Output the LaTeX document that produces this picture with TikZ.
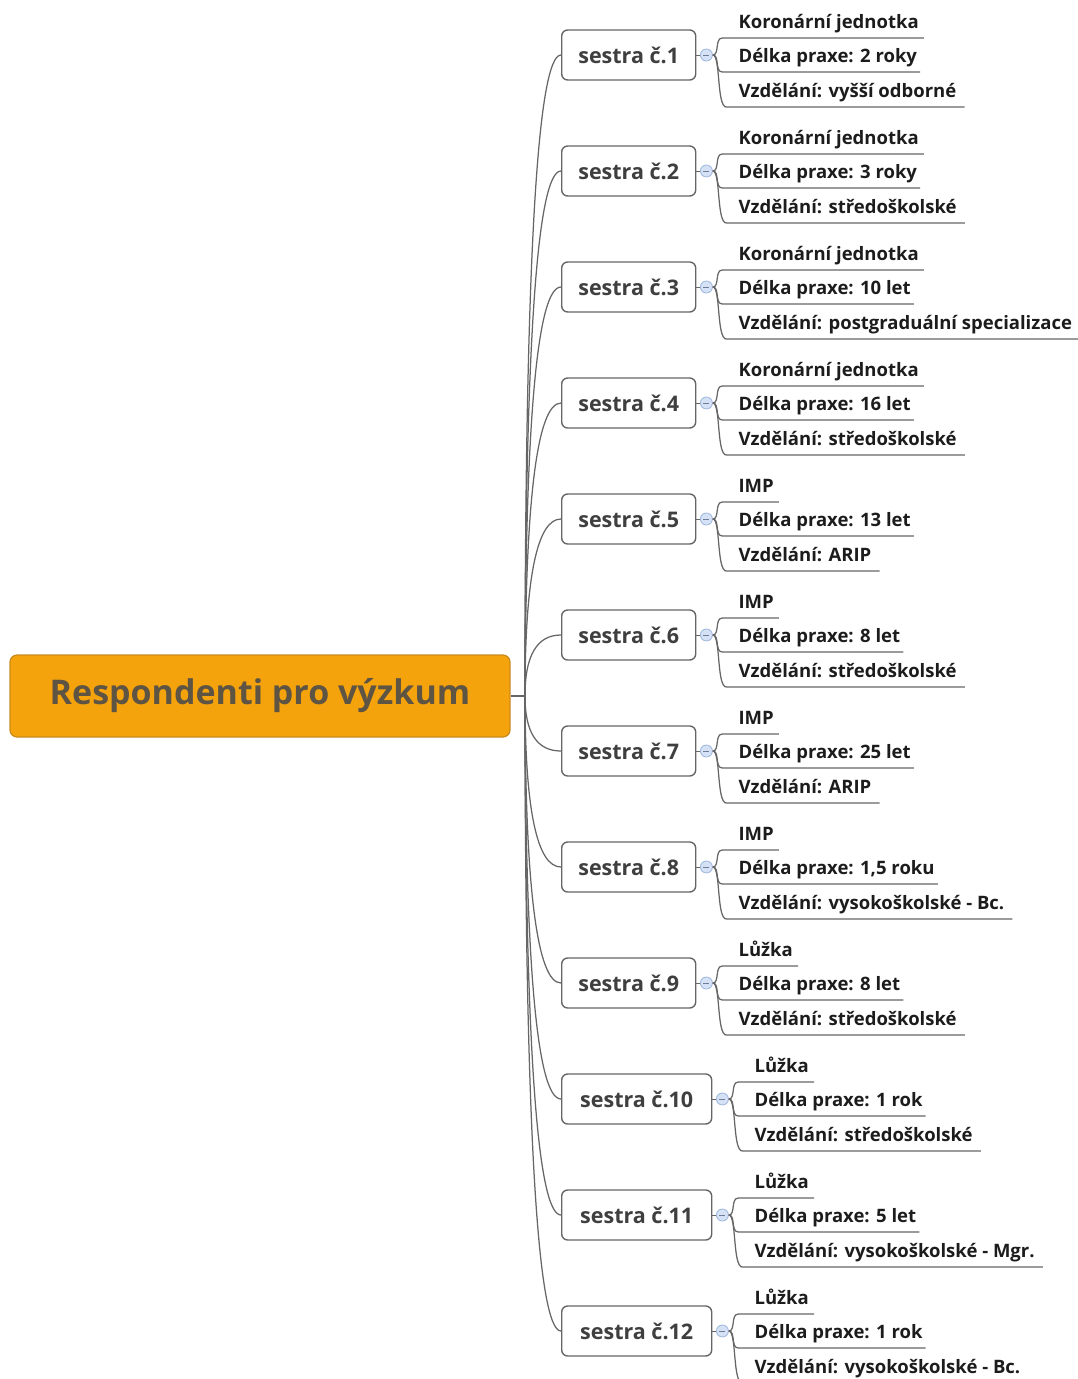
\documentclass[tikz,border=0pt]{standalone}
\usepackage{fontspec}
\setmainfont{Open Sans}
\usetikzlibrary{calc}
\begin{document}
\definecolor{rootfill}{HTML}{F5A30C}
\definecolor{rootedge}{HTML}{C98A1E}
\definecolor{roottext}{HTML}{5E5444}
\definecolor{branch}{HTML}{666666}
\definecolor{boxtext}{HTML}{3F3F3F}
\definecolor{leaftext}{HTML}{1C1C1C}
\definecolor{markfill}{HTML}{D5E2F6}
\definecolor{markedge}{HTML}{9DB4DC}
\begin{tikzpicture}[x=1pt,y=-1pt,
  rootbox/.style={draw=rootedge, line width=1.2pt, fill=rootfill, rounded corners=7pt,
    minimum width=500pt, minimum height=82pt, text=roottext,
    font=\fontsize{34}{40}\selectfont\bfseries},
  nursebox/.style={draw=branch, line width=1.4pt, fill=white, rounded corners=6pt,
    minimum height=50pt, text=boxtext, font=\fontsize{21.5}{25}\selectfont\bfseries, anchor=west},
  marker/.style={circle, draw=markedge, fill=markfill, line width=0.8pt,
    minimum size=12pt, inner sep=0pt},
  leaf/.style={anchor=south west, inner xsep=0pt, inner ysep=5pt,
    text height=13pt, text depth=4pt, text=leaftext,
    font=\fontsize{18.5}{22}\selectfont\bfseries},
  link/.style={draw=branch, line width=1.25pt},
]
\useasboundingbox (0,0) rectangle (1078,1379);

% central topic
\node[rootbox] (root) at (260,696) {Respondenti pro výzkum};
\coordinate (hub) at (525,696);
\draw[link] (root.east) -- (hub);

% nurses with their three attributes
\foreach \i/\cy/\w/\a/\b/\c in {
  1/55/134/{Koronární jednotka}/{Délka praxe: 2 roky}/{Vzdělání: vyšší odborné},
  2/171/134/{Koronární jednotka}/{Délka praxe: 3 roky}/{Vzdělání: středoškolské},
  3/287/134/{Koronární jednotka}/{Délka praxe: 10 let}/{Vzdělání: postgraduální specializace},
  4/403/134/{Koronární jednotka}/{Délka praxe: 16 let}/{Vzdělání: středoškolské},
  5/519/134/{IMP}/{Délka praxe: 13 let}/{Vzdělání: ARIP},
  6/635/134/{IMP}/{Délka praxe: 8 let}/{Vzdělání: středoškolské},
  7/751/134/{IMP}/{Délka praxe: 25 let}/{Vzdělání: ARIP},
  8/867/134/{IMP}/{Délka praxe: 1,5 roku}/{Vzdělání: vysokoškolské - Bc.},
  9/983/134/{Lůžka}/{Délka praxe: 8 let}/{Vzdělání: středoškolské},
  10/1099/150/{Lůžka}/{Délka praxe: 1 rok}/{Vzdělání: středoškolské},
  11/1215/150/{Lůžka}/{Délka praxe: 5 let}/{Vzdělání: vysokoškolské - Mgr.},
  12/1331/150/{Lůžka}/{Délka praxe: 1 rok}/{Vzdělání: vysokoškolské - Bc.}}
{
  \node[nursebox, minimum width=\w pt] (s\i) at (561,\cy) {sestra č.\i};
  % quadratic-like branch from the hub into the box
  \draw[link] (hub) .. controls ($(hub)!0.667!(hub |- s\i.west)$)
                       and ($(s\i.west)!0.667!(hub |- s\i.west)$) .. (s\i.west);
  \node[marker] (m\i) at ([xshift=10pt]s\i.east) {};
  \draw[link, line width=0.8pt] (s\i.east) -- (m\i.west);
  \draw[markedge!70!black, line width=0.9pt] ([xshift=-3pt]m\i.center) -- ([xshift=3pt]m\i.center);
  % attribute texts
  \node[leaf] (a\i) at ([xshift=32pt,yshift=17pt]m\i.center) {\a};
  \node[leaf] (b\i) at ([xshift=32pt,yshift=-17pt]m\i.center) {\b};
  \node[leaf] (c\i) at ([xshift=32pt,yshift=-52pt]m\i.center) {\c};
  % curved stems ending in underlines
  \draw[link] (m\i.east) .. controls +(7,0) and +(-8,0) .. ([xshift=-16pt]a\i.south west) -- ([xshift=5pt]a\i.south east);
  \draw[link] (m\i.east) .. controls +(7,0) and +(-8,0) .. ([xshift=-16pt]b\i.south west) -- ([xshift=3pt]b\i.south east);
  \draw[link] (m\i.east) .. controls +(8,0) and +(-10,0) .. ([xshift=-12pt]c\i.south west) -- ([xshift=8pt]c\i.south east);
}
\end{tikzpicture}
\end{document}
